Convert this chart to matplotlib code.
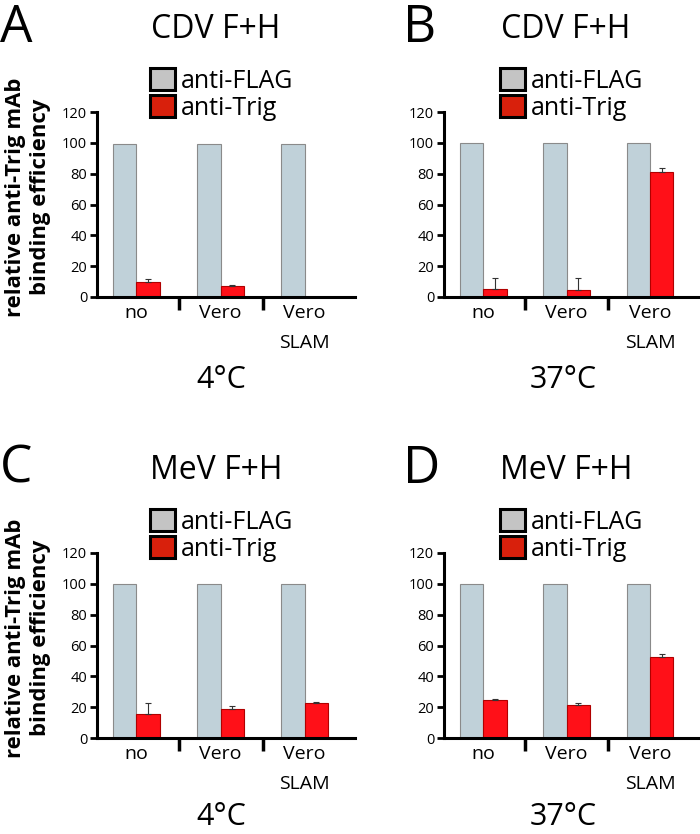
import matplotlib
matplotlib.use("Agg")
import matplotlib.pyplot as plt
from matplotlib.patches import Rectangle
import numpy as np

plt.rcParams['font.family'] = ['Open Sans', 'DejaVu Sans']

categories = ["no", "Vero", "Vero\nSLAM"]
series_names = ["anti-FLAG", "anti-Trig"]

panel_letters = ["A", "B", "C", "D"]
panel_titles = ["CDV F+H", "CDV F+H", "MeV F+H", "MeV F+H"]
panel_temps = ["4°C", "37°C", "4°C", "37°C"]

flag_A = [99, 99, 99]
trig_A = [9.7, 7.1, 0]
trig_err_A = [2.2, 0.5, 0]

flag_B = [100, 100, 100]
trig_B = [5.2, 4.8, 81]
trig_err_B = [7.3, 7.7, 2.7]

flag_C = [100, 100, 100]
trig_C = [15.8, 18.8, 22.7]
trig_err_C = [6.9, 2.2, 0.4]

flag_D = [100, 100, 100]
trig_D = [24.8, 21.3, 52.8]
trig_err_D = [0.6, 1.1, 1.5]

yticks = [0, 20, 40, 60, 80, 100, 120]
ylabel = "relative anti-Trig mAb\nbinding efficiency"

W, H = 700, 834
fig = plt.figure(figsize=(W / 100, H / 100), dpi=100)

grey_bar = "#c0d1d9"
grey_edge = "#8a8a8a"
red_bar = "#ff1018"
red_edge = "#b00000"
legend_grey = "#c4c4c4"
legend_red = "#d8200c"

def fx(px):
    return px / W

def fy(py):
    return 1 - py / H

panels = [
    (flag_A, trig_A, trig_err_A, 97, 355, 112, 297, 0, 0),
    (flag_B, trig_B, trig_err_B, 444, 700, 112, 297, 0, 350),
    (flag_C, trig_C, trig_err_C, 97, 355, 553, 738, 441, 0),
    (flag_D, trig_D, trig_err_D, 444, 700, 553, 738, 441, 350),
]

x = np.arange(len(categories))
bw = 0.28
ylabel_texts = []

for k, (flag, trig, err, l, r, t, b, dy, dx) in enumerate(panels):
    ax = fig.add_axes([fx(l), fy(b), fx(r - l), (b - t) / H])
    ax.bar(x - bw / 2, flag, width=bw, color=grey_bar, edgecolor=grey_edge, linewidth=0.8, zorder=2)
    ax.bar(x + bw / 2, trig, width=bw, color=red_bar, edgecolor=red_edge, linewidth=0.8, zorder=2)
    errs = np.array(err)
    mask = errs > 0
    ax.errorbar((x + bw / 2)[mask], np.array(trig)[mask],
                yerr=[np.zeros(mask.sum()), errs[mask]], fmt='none',
                ecolor='#333333', elinewidth=0.8, capsize=2.5, capthick=0.8, zorder=3)
    ax.set_ylim(0, 120)
    ax.set_xlim(-0.47, 2.6)
    ax.set_yticks(yticks)
    ax.set_yticklabels([str(v) for v in yticks], fontsize=10.5)
    ax.set_xticks(x)
    ax.set_xticklabels(categories, fontsize=14, linespacing=1.85)
    ax.set_xticks([0.5, 1.5], minor=True)
    ax.tick_params(axis='x', which='major', length=0, pad=5)
    ax.tick_params(axis='x', which='minor', length=9, width=2.5, direction='out')
    ax.tick_params(axis='y', which='major', length=5, width=2, direction='out', pad=2)
    for s in ['top', 'right']:
        ax.spines[s].set_visible(False)
    for s in ['left', 'bottom']:
        ax.spines[s].set_linewidth(2.2)

    handles = [Rectangle((0, 0), 1, 1, facecolor=legend_grey, edgecolor='black', linewidth=2.2),
               Rectangle((0, 0), 1, 1, facecolor=legend_red, edgecolor='black', linewidth=2.2)]
    lx = 150 + dx
    ly = 68 + dy
    ax.legend(handles, series_names, loc='upper left',
              bbox_to_anchor=(fx(lx), fy(ly)), bbox_transform=fig.transFigure,
              frameon=False, fontsize=18, borderpad=0, borderaxespad=0,
              handlelength=1.0, handleheight=1.0, handletextpad=0.25,
              labelspacing=0.05)

    fig.text(fx(0 + dx + (53 if dx else 0)), fy(42 + dy), panel_letters[k], fontsize=37,
             ha='left', va='baseline')
    fig.text(fx(216 + dx), fy(38 + dy), panel_titles[k], fontsize=23, ha='center', va='baseline')
    fig.text(fx(221 + dx - (8 if dx else 0)), fy(388 + dy - (4 if dy else 0)), panel_temps[k],
             fontsize=22, ha='center', va='baseline')
    if dx == 0:
        tt = fig.text(fx(28), fy(197 + dy), ylabel, rotation=90, fontsize=15, fontweight='bold',
                      ha='center', va='center', multialignment='center', linespacing=1.25)
        ylabel_texts.append(tt)

# scale the y-label so its length matches the reference (about 240 px)
fig.canvas.draw()
renderer = fig.canvas.get_renderer()
for tt in ylabel_texts:
    ext = tt.get_window_extent(renderer)
    tt.set_fontsize(15 * 240.0 / ext.height)

fig.savefig("out.png", dpi=100)
